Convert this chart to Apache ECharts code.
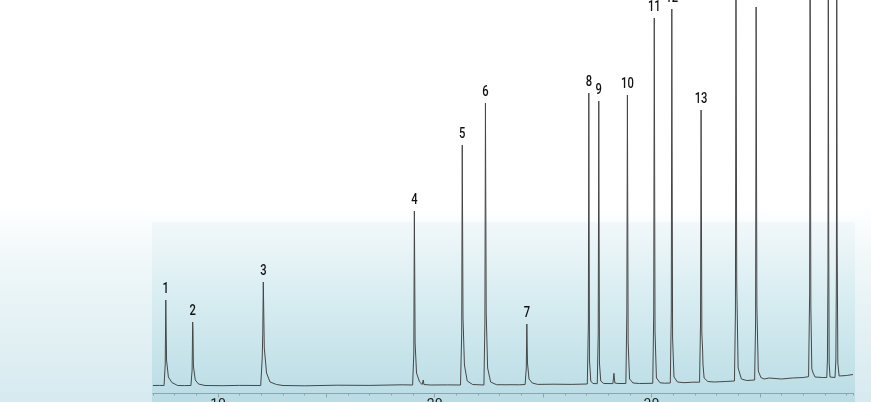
<!DOCTYPE html>
<html><head><meta charset="utf-8">
<script src="https://cdn.jsdelivr.net/npm/echarts@6/dist/echarts.min.js"></script>
<style>
html,body{margin:0;padding:0;width:871px;height:402px;overflow:hidden;
background:linear-gradient(to bottom,#ffffff 0px,#ffffff 205px,#eef6f8 270px,#d6eaf0 402px);}
#panel{position:absolute;left:152px;top:222px;width:703px;height:180px;
background:linear-gradient(to bottom,#f2f8fa 0%,#d6ecf1 45%,#badce5 100%);}
#chart{position:absolute;left:0;top:0;width:871px;height:402px;}
</style></head><body>
<div id="panel"></div><div id="chart"></div>
<script>
// Peak annotations (retention time in min, apex signal)
const peakLabels  = ['1','2','3','4','5','6','7','8','9','10','11','12','13','14','15','16','17','18'];
const peakTimes   = [7.59, 8.83, 12.09, 19.06, 21.27, 22.34, 24.25, 27.11, 27.57, 28.89, 30.13, 30.94, 32.29, 33.90, 34.83, 37.32, 38.16, 38.55];
const peakHeights = [93, 71, 111, 182, 248, 290, 69, 300, 292, 298, 375, 384, 283, 430, 386, 450, 440, 420];

// Detector trace [time (min), signal]
const trace = [
  [7.0,7.5],[7.3,7.6],[7.51,7.5],[7.565,29],[7.59,93],[7.625,33],[7.71,16],[7.87,10.5],[8.14,7.5],
  [8.45,7.4],[8.75,7.5],[8.805,23],[8.83,71],[8.845,62],[8.865,27],[8.95,13],[9.1,9],[9.4,7.5],
  [10.2,7.3],[11.0,7.6],[11.97,7.5],[12.04,35],[12.065,60],[12.09,111],[12.135,45],[12.24,20],[12.4,11],[12.7,8.5],[13.0,7.5],
  [14.0,7.2],[15.5,7.8],[17.0,7.6],[18.5,8.2],
  [18.98,8],[19.035,40],[19.06,182],[19.095,50],[19.16,20],[19.3,11],[19.42,8.5],[19.47,13],[19.5,8.5],[19.8,8],
  [20.6,8.1],[21.19,8],[21.245,60],[21.27,248],[21.305,75],[21.37,28],[21.5,12],[21.75,8.5],
  [22.27,8],[22.315,70],[22.34,290],[22.375,80],[22.44,25],[22.58,11],[22.85,8.3],
  [23.33,8.2],[23.38,10],[23.43,8.3],[23.9,8.2],
  [24.17,8.5],[24.225,25],[24.25,69],[24.28,30],[24.35,14],[24.5,10],[24.75,8.6],
  [25.5,8.8],[26.3,8.6],[27.04,9],[27.09,70],[27.11,300],[27.14,33],[27.2,12],[27.3,9.5],
  [27.5,9.3],[27.545,60],[27.57,292],[27.6,30],[27.66,12],[27.8,9.5],
  [28.22,9.4],[28.27,19.7],[28.31,10],[28.45,9.5],
  [28.82,9.5],[28.865,80],[28.89,298],[28.925,50],[28.99,14],[29.15,10],[29.45,9.5],
  [30.06,9.7],[30.105,80],[30.13,375],[30.165,61],[30.23,15],[30.4,10.2],[30.6,9.8],
  [30.87,10],[30.915,80],[30.94,384],[30.975,55],[31.04,16],[31.2,11],[31.5,10.3],
  [31.9,10.8],[32.22,10.8],[32.265,70],[32.29,283],[32.325,60],[32.36,43],[32.38,28],[32.43,15],[32.6,11.5],[32.9,11],
  [33.4,11.5],[33.83,12],[33.875,80],[33.9,430],[33.935,110],[34.0,25],[34.15,14],[34.4,12.5],
  [34.76,13],[34.805,70],[34.83,386],[34.865,86],[34.93,22],[35.05,15.5],[35.2,14],[35.43,15],[35.5,13.5],
  [36.0,14],[36.5,15],[37.0,15.5],
  [37.25,16.3],[37.3,100],[37.32,450],[37.355,86],[37.4,24],[37.46,20],[37.55,16],[37.9,15.5],
  [38.09,15.5],[38.12,33],[38.145,120],[38.16,440],[38.18,150],[38.2,30],[38.24,16],
  [38.47,15.5],[38.51,33],[38.535,120],[38.55,420],[38.57,150],[38.6,30],[38.66,17],[39.0,17.5],[39.3,18.5]
];

const majorTicks = [10, 15, 20, 25, 30, 35];
const tickLabels = [10, 20, 30];

const font = "Roboto, 'DejaVu Sans Condensed', sans-serif";
const chart = echarts.init(document.getElementById('chart'), null, {renderer:'canvas'});
chart.setOption({
  animation: false,
  backgroundColor: 'transparent',
  grid: {left: 153, right: 18, top: 0, bottom: 9, containLabel: false, outerBoundsMode: 'none'},
  xAxis: [{
    type: 'value', min: 7, max: 39.3, interval: 1, position: 'bottom',
    axisLine: {show: true, lineStyle: {color: '#8fa3aa', width: 1}},
    axisTick: {show: true, length: 2.5, lineStyle: {color: '#8fa3aa'}},
    axisLabel: {show: false}, splitLine: {show: false}
  }, {
    type: 'value', min: 7, max: 39.3, position: 'bottom',
    axisLine: {show: false},
    axisTick: {show: true, length: 4.5, customValues: majorTicks, lineStyle: {color: '#8fa3aa'}},
    axisLabel: {show: true, customValues: tickLabels, margin: 5, color: '#222', fontSize: 14, fontFamily: font},
    splitLine: {show: false}
  }],
  yAxis: {type: 'value', min: 0, max: 393, show: false, splitLine: {show: false}},
  series: [{
    type: 'line', xAxisIndex: 0, data: trace, showSymbol: false, symbol: 'none',
    lineStyle: {color: '#474747', width: 1}, clip: true, z: 2
  }, {
    type: 'custom', xAxisIndex: 0, clip: false, z: 3,
    data: peakTimes.map((t, i) => [t, peakHeights[i], i]),
    renderItem: function (params, api) {
      const p = api.coord([api.value(0), api.value(1)]);
      return {
        type: 'text', x: p[0], y: p[1] - 4, scaleX: 0.8,
        style: {text: peakLabels[api.value(2)], fill: '#111', font: '500 14px ' + font,
                align: 'center', verticalAlign: 'bottom'}
      };
    }
  }]
});
</script>
</body></html>
